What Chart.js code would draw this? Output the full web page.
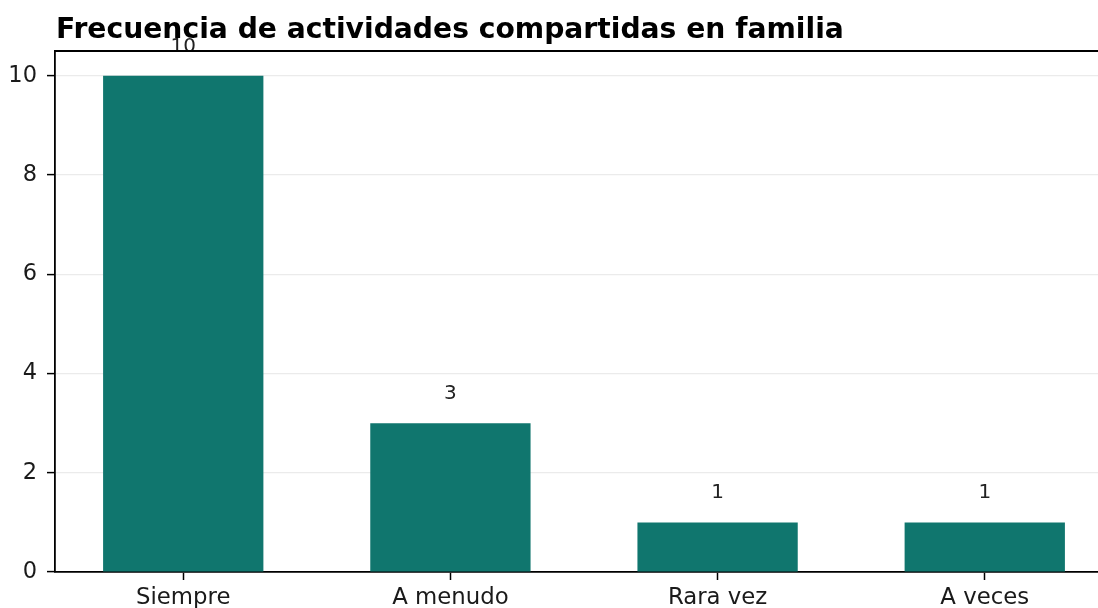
<!DOCTYPE html>
<html>
<head>
<meta charset="utf-8">
<script src="https://cdn.jsdelivr.net/npm/chart.js@4.4.1/dist/chart.umd.min.js"></script>
<style>
    html, body { margin: 0; padding: 0; background: #ffffff; overflow: hidden; }
    #wrap { width: 1098px; height: 608px; overflow: hidden; position: relative; }
    #box { width: 1120px; height: 608px; position: absolute; left: 0; top: 0; }
</style>
</head>
<body>
<div id="wrap"><div id="box"><canvas id="frecuenciaChart"></canvas></div></div>
<script>
const chartTitle = "Frecuencia de actividades compartidas en familia";
const categories = ["Siempre", "A menudo", "Rara vez", "A veces"];
const counts = [10, 3, 1, 1];
const yTicks = [0, 2, 4, 6, 8, 10];

const barColor = "#10766e";
const fontFamily = "'DejaVu Sans', 'Liberation Sans', sans-serif";

// titulo alineado con el borde izquierdo del area de datos + borde superior
const frameAndTitle = {
    id: "frameAndTitle",
    afterDraw(chart) {
        const { ctx, chartArea } = chart;
        ctx.save();
        ctx.strokeStyle = "#000000";
        ctx.lineWidth = 1.8;
        ctx.beginPath();
        ctx.moveTo(chartArea.left, chartArea.top);
        ctx.lineTo(chartArea.right, chartArea.top);
        ctx.stroke();

        ctx.fillStyle = "#000000";
        ctx.font = "bold 28.2px " + fontFamily;
        ctx.textAlign = "left";
        ctx.textBaseline = "alphabetic";
        ctx.fillText(chartTitle, chartArea.left + 1, 38);
        ctx.restore();
    },
};

// etiquetas de valor encima de cada barra
const valueLabels = {
    id: "valueLabels",
    afterDatasetsDraw(chart) {
        const { ctx } = chart;
        const meta = chart.getDatasetMeta(0);
        ctx.save();
        ctx.fillStyle = "#222222";
        ctx.font = "20px " + fontFamily;
        ctx.textAlign = "center";
        ctx.textBaseline = "alphabetic";
        meta.data.forEach((bar, i) => {
            ctx.fillText(String(counts[i]), bar.x, bar.y - 24);
        });
        ctx.restore();
    },
};

const ctx = document.getElementById("frecuenciaChart").getContext("2d");
new Chart(ctx, {
    type: "bar",
    data: {
        datasets: [
            {
                label: "Frecuencia",
                data: counts.map((v, i) => ({ x: i, y: v })),
                backgroundColor: barColor,
                borderWidth: 0,
                categoryPercentage: 0.6,
                barPercentage: 1.0,
            },
        ],
    },
    options: {
        responsive: true,
        maintainAspectRatio: false,
        animation: false,
        layout: {
            padding: { top: 51, right: 7, left: 0, bottom: 0 },
        },
        scales: {
            x: {
                type: "linear",
                offset: false,
                min: -0.48,
                max: categories.length - 1 + 0.48,
                afterBuildTicks: (scale) => {
                    scale.ticks = categories.map((c, i) => ({ value: i }));
                },
                afterFit: (scale) => {
                    scale.height = 36;
                },
                grid: {
                    offset: false,
                    drawOnChartArea: false,
                    drawTicks: true,
                    tickLength: 8,
                    tickColor: "#000000",
                    tickWidth: 1.5,
                },
                border: { display: true, color: "#000000", width: 1.8 },
                ticks: {
                    autoSkip: false,
                    maxRotation: 0,
                    padding: 4,
                    color: "#1a1a1a",
                    font: { family: fontFamily, size: 22.8 },
                    callback: (value) => categories[value],
                },
            },
            y: {
                min: 0,
                max: 10.5,
                afterBuildTicks: (scale) => {
                    scale.ticks = yTicks.map((v) => ({ value: v }));
                },
                afterFit: (scale) => {
                    scale.width = 55;
                },
                grid: {
                    color: "#ebebeb",
                    lineWidth: 1.2,
                    drawTicks: true,
                    tickLength: 8,
                    tickColor: "#000000",
                    tickWidth: 1.5,
                },
                border: { display: true, color: "#000000", width: 1.8 },
                ticks: {
                    padding: 10,
                    color: "#1a1a1a",
                    font: { family: fontFamily, size: 22.5 },
                },
            },
        },
        plugins: {
            legend: { display: false },
            title: { display: false },
            tooltip: { enabled: false },
        },
    },
    plugins: [valueLabels, frameAndTitle],
});
</script>
</body>
</html>
